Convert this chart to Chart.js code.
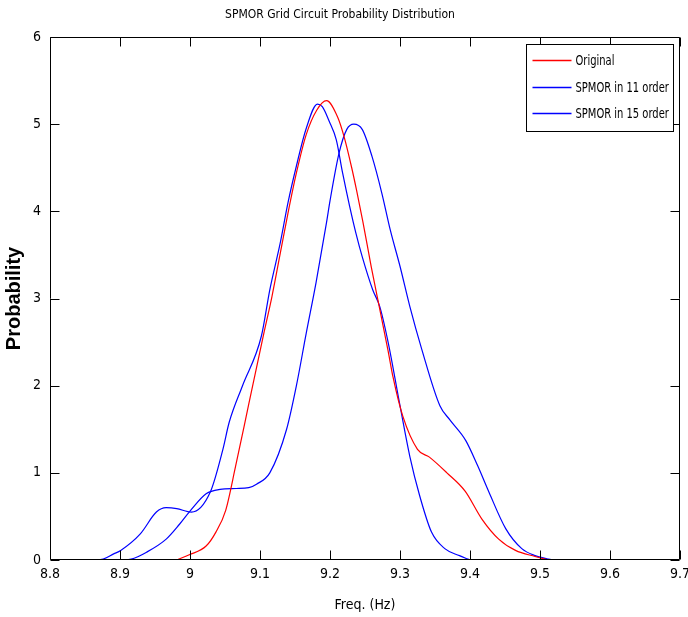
<!DOCTYPE html>
<html><head><meta charset="utf-8">
<script src="https://cdn.jsdelivr.net/npm/chart.js@4"></script>
<style>html,body{margin:0;padding:0;background:#fff}#wrap{width:688px;height:617px}</style>
</head><body><div id="wrap"><canvas id="c" width="688" height="617"></canvas></div>
<script>
const chartTitle = 'SPMOR Grid Circuit Probability Distribution';
const xAxisTitle = 'Freq. (Hz)';
const yAxisTitle = 'Probability';
const xTickValues = [8.8, 8.9, 9.0, 9.1, 9.2, 9.3, 9.4, 9.5, 9.6, 9.7];
const yTickValues = [0, 1, 2, 3, 4, 5, 6];
const seriesLabels = ['Original', 'SPMOR in 11 order', 'SPMOR in 15 order'];

const originalX = [8.981, 8.999, 9.023, 9.037, 9.051, 9.065, 9.084, 9.106, 9.117, 9.129, 9.140, 9.152, 9.166, 9.181, 9.195, 9.211, 9.220, 9.231, 9.238, 9.247, 9.259, 9.271, 9.283, 9.290, 9.304, 9.325, 9.342, 9.367, 9.393, 9.417, 9.441, 9.465, 9.493, 9.507, 9.512];
const originalY = [0, 0.06, 0.16, 0.32, 0.57, 1.07, 1.79, 2.62, 3.02, 3.52, 3.98, 4.44, 4.88, 5.16, 5.27, 5.08, 4.86, 4.50, 4.24, 3.88, 3.36, 2.88, 2.40, 2.10, 1.65, 1.27, 1.18, 1.00, 0.79, 0.47, 0.24, 0.11, 0.04, 0.01, 0];

const order11X = [8.902, 8.916, 8.938, 8.966, 8.985, 9.002, 9.023, 9.043, 9.066, 9.084, 9.095, 9.114, 9.138, 9.152, 9.166, 9.180, 9.195, 9.200, 9.213, 9.224, 9.234, 9.246, 9.260, 9.274, 9.286, 9.300, 9.314, 9.331, 9.357, 9.371, 9.394, 9.411, 9.427, 9.451, 9.474, 9.493, 9.512, 9.520];
const order11Y = [0, 0.01, 0.09, 0.24, 0.41, 0.58, 0.76, 0.81, 0.82, 0.83, 0.87, 1.00, 1.50, 2.00, 2.60, 3.18, 3.87, 4.12, 4.67, 4.94, 5.00, 4.94, 4.63, 4.21, 3.79, 3.37, 2.91, 2.42, 1.77, 1.61, 1.37, 1.08, 0.78, 0.36, 0.13, 0.05, 0.01, 0];

const order15X = [8.862, 8.876, 8.891, 8.901, 8.929, 8.952, 8.966, 8.981, 9.002, 9.029, 9.047, 9.056, 9.075, 9.102, 9.114, 9.129, 9.140, 9.152, 9.166, 9.182, 9.189, 9.199, 9.209, 9.218, 9.228, 9.237, 9.246, 9.261, 9.271, 9.283, 9.300, 9.314, 9.328, 9.345, 9.364, 9.385, 9.397, 9.400];
const order15Y = [0, 0.01, 0.07, 0.11, 0.30, 0.55, 0.60, 0.59, 0.55, 0.78, 1.27, 1.58, 2.00, 2.57, 3.10, 3.64, 4.10, 4.52, 4.95, 5.23, 5.20, 5.03, 4.82, 4.44, 4.06, 3.75, 3.48, 3.10, 2.91, 2.50, 1.77, 1.19, 0.74, 0.32, 0.13, 0.05, 0.01, 0];

const seriesColors = ['#ff0000', '#0000ff', '#0000ff'];

const pts = (xs, ys) => xs.map((x, i) => ({x: x, y: ys[i]}));
const FONT = "'Liberation Sans Narrow', 'DejaVu Sans Condensed', 'Liberation Sans', sans-serif";

const framePlugin = {
  id: 'frame',
  afterDatasetsDraw(chart) {
    const {ctx, chartArea: a, scales: {x, y}} = chart;
    const L = Math.round(a.left) + 0.5, R = Math.round(a.right) - 0.5;
    const T = Math.round(a.top) + 0.5, B = Math.round(a.bottom) - 0.5;
    const tl = 9;
    ctx.save();
    ctx.strokeStyle = '#000';
    ctx.lineWidth = 1;
    ctx.beginPath();
    x.ticks.forEach(t => {
      const p = Math.round(x.getPixelForValue(t.value)) + 0.5;
      ctx.moveTo(p, B); ctx.lineTo(p, B - tl);
      ctx.moveTo(p, T); ctx.lineTo(p, T + tl);
    });
    y.ticks.forEach(t => {
      const p = Math.round(y.getPixelForValue(t.value)) + 0.5;
      ctx.moveTo(L, p); ctx.lineTo(L + tl, p);
      ctx.moveTo(R, p); ctx.lineTo(R - tl, p);
    });
    ctx.rect(L, T, R - L, B - T);
    ctx.stroke();

    // legend
    const bx = R - 6, bl = bx - 147, bt = T + 7, bb = bt + 87;
    ctx.fillStyle = '#fff';
    ctx.fillRect(bl, bt, bx - bl, bb - bt);
    ctx.strokeRect(bl, bt, bx - bl, bb - bt);
    const rows = [16, 43, 69];
    ctx.font = '14px ' + FONT;
    ctx.textBaseline = 'middle';
    ctx.textAlign = 'left';
    chart.data.datasets.forEach((ds, i) => {
      const yy = bt + rows[i];
      ctx.strokeStyle = ds.borderColor;
      ctx.lineWidth = 1.3;
      ctx.beginPath();
      ctx.moveTo(bl + 6, yy); ctx.lineTo(bl + 45, yy);
      ctx.stroke();
      ctx.save();
      ctx.translate(bl + 49, yy + 1);
      ctx.scale(0.79, 1);
      ctx.fillStyle = '#000';
      ctx.fillText(ds.label, 0, 0);
      ctx.restore();
    });
    ctx.restore();
  }
};

new Chart(document.getElementById('c'), {
  type: 'scatter',
  data: {
    datasets: [
      {label: seriesLabels[0], data: pts(originalX, originalY)},
      {label: seriesLabels[1], data: pts(order11X, order11Y)},
      {label: seriesLabels[2], data: pts(order15X, order15Y)}
    ].map((d, i) => Object.assign(d, {
      showLine: true, borderColor: seriesColors[i], backgroundColor: seriesColors[i],
      borderWidth: 1.2, pointRadius: 0, cubicInterpolationMode: 'monotone', fill: false
    }))
  },
  plugins: [framePlugin],
  options: {
    responsive: false,
    animation: false,
    layout: {padding: {top: 0, right: 8, left: 0, bottom: 0}},
    plugins: {
      legend: {display: false},
      tooltip: {enabled: false},
      title: {display: true, text: chartTitle, color: '#000',
        font: {family: FONT, size: 12, weight: 'normal'}, padding: {top: 8, bottom: 14.6}}
    },
    scales: {
      x: {
        type: 'linear', min: 8.8, max: 9.7,
        afterBuildTicks: s => { s.ticks = xTickValues.map(v => ({value: v})); },
        afterFit: s => { s.height = 57; s.paddingLeft = 0; s.paddingRight = 0; },
        grid: {display: false, drawTicks: false},
        border: {display: false},
        ticks: {color: '#000', padding: 6, maxRotation: 0, autoSkip: false,
          font: {family: FONT, size: 14},
          callback: v => String(Number(v.toFixed(1)))},
        title: {display: true, text: xAxisTitle, color: '#000',
          font: {family: FONT, size: 14}, padding: {top: 0, bottom: 3}}
      },
      y: {
        type: 'linear', min: 0, max: 6,
        afterBuildTicks: s => { s.ticks = yTickValues.map(v => ({value: v})); },
        afterFit: s => { s.width = 50; s.paddingTop = 0; s.paddingBottom = 0; },
        grid: {display: false, drawTicks: false},
        border: {display: false},
        ticks: {color: '#000', padding: 9, autoSkip: false,
          font: {family: FONT, size: 14}},
        title: {display: true, text: yAxisTitle, color: '#000',
          font: {family: "'Liberation Sans', Arial, sans-serif", size: 20, weight: 'bold'}, padding: {top: 2, bottom: 0}}
      }
    }
  }
});
</script>
</body></html>
